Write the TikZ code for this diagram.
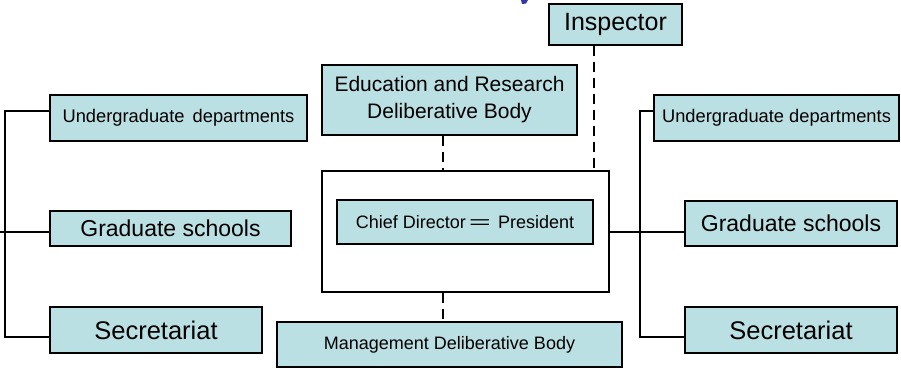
\documentclass[tikz,border=0pt]{standalone}
\usepackage{fontspec}
\usepackage{graphicx}
\setmainfont{Liberation Sans}
\definecolor{boxfill}{RGB}{187,224,227}
\definecolor{titleblue}{RGB}{51,51,170}
\tikzset{
  orgbox/.style={draw=black, line width=1.8pt, fill=boxfill, rectangle, inner sep=0pt, align=center, text=black},
  conn/.style={draw=black, line width=1.5pt},
  dashconn/.style={draw=black, line width=1.5pt, dash pattern=on 10pt off 6pt},
}
\newcommand{\fsz}[1]{\fontsize{#1}{#1}\selectfont}
\begin{document}
\begin{tikzpicture}[x=1pt,y=-1pt]
\useasboundingbox (0,0) rectangle (901,369);
% cut-off title fragment
\fill[titleblue] (521,0) -- (528,0) -- (526,3.5) -- (522,4) -- cycle;

\node[orgbox, minimum width=133pt, minimum height=41pt, font=\fsz{25}] (insp) at (615.5,24.5) {Inspector};
\node[orgbox, minimum width=255pt, minimum height=70pt, font=\fontsize{21}{27}\selectfont] (edu) at (449.5,100) {Education and Research\\Deliberative Body};
\node[orgbox, minimum width=257pt, minimum height=46pt, font=\fsz{18.3}] (ugL) at (178.5,118) {Undergraduate\hspace{3pt} departments};
\node[orgbox, minimum width=241pt, minimum height=35pt, font=\fsz{23}] (gsL) at (170.5,228.5) {Graduate schools};
\node[orgbox, minimum width=212pt, minimum height=46pt, font=\fsz{25.5}] (secL) at (156,330) {Secretariat};
\node[draw=black, line width=1.8pt, fill=white, rectangle, minimum width=287pt, minimum height=121pt, inner sep=0pt] (main) at (465.5,231.5) {};
\node[orgbox, minimum width=256pt, minimum height=44pt, font=\fsz{18}] (chief) at (465,222) {Chief Director\hspace{3pt}\scalebox{2.1}[1]{=}\hspace{7pt}President};
\node[orgbox, minimum width=345pt, minimum height=45pt, font=\fsz{18}] (mgmt) at (449.5,344.5) {Management Deliberative Body};
\node[orgbox, minimum width=245pt, minimum height=46pt, font=\fsz{18.3}] (ugR) at (776.5,118) {Undergraduate departments};
\node[orgbox, minimum width=212pt, minimum height=45pt, font=\fsz{23}] (gsR) at (791,223.5) {Graduate schools};
\node[orgbox, minimum width=212pt, minimum height=46pt, font=\fsz{25.5}] (secR) at (791,330) {Secretariat};

\coordinate (lb) at (5,232);
\coordinate (lfree) at (0,232);
\coordinate (rb) at (640,232);
\coordinate (dx) at (443,0);
\coordinate (ix) at (594,0);

\draw[conn] ([yshift=7pt]ugL.west) -| (lb) |- ([yshift=-7pt]secL.west);
\draw[conn] (lfree) -- (lfree -| gsL.west);
\draw[conn] ([yshift=7pt]ugR.west) -| (rb) |- ([yshift=-7pt]secR.west);
\draw[conn] (main.east |- rb) -- (rb -| gsR.west);

\draw[dashconn] (edu.south -| dx) -- (main.north -| dx);
\draw[dashconn] (main.south -| dx) -- (mgmt.north -| dx);
\draw[dashconn] (insp.south -| ix) -- (main.north -| ix);
\end{tikzpicture}
\end{document}
